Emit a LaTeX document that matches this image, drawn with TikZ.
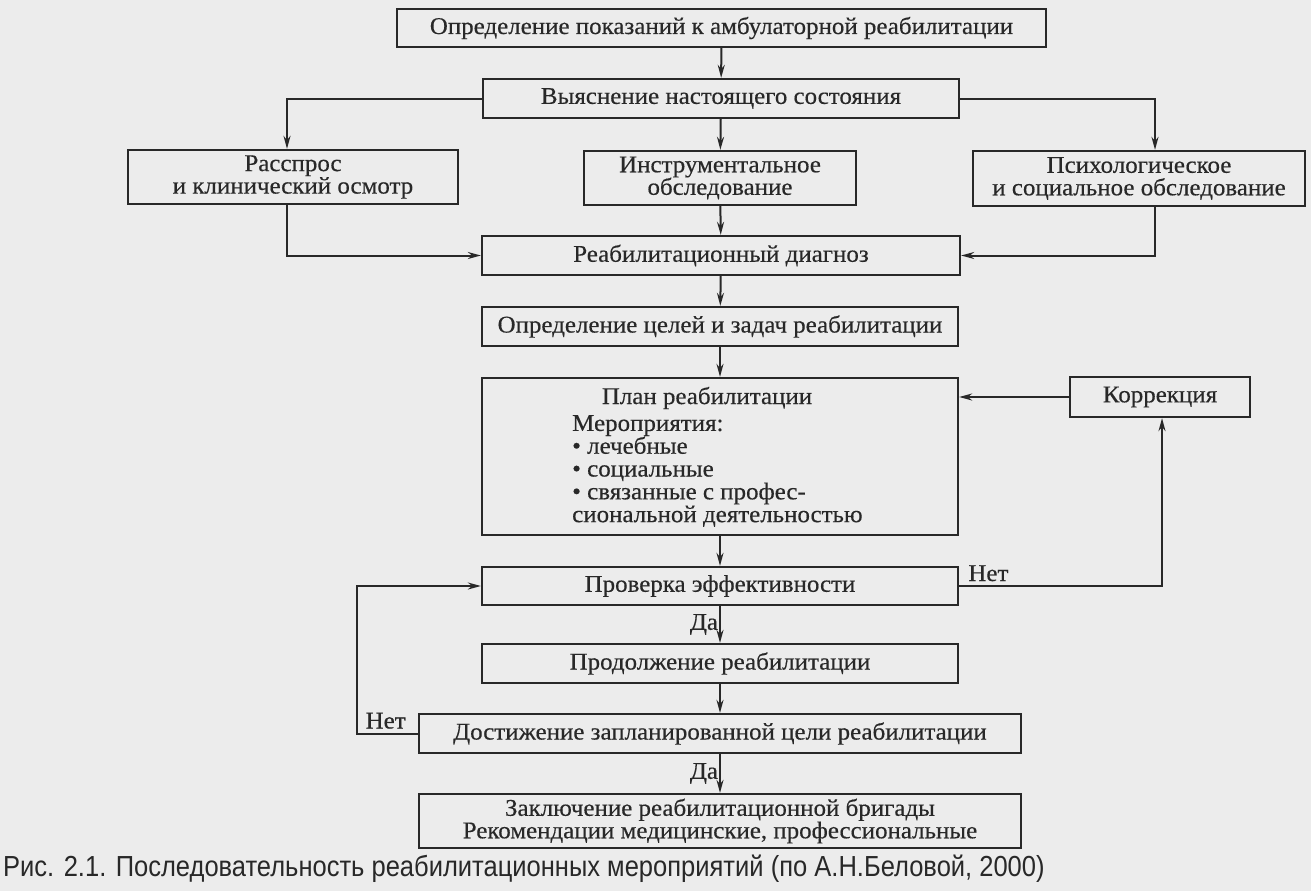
\documentclass[tikz,border=0pt]{standalone}
\usepackage{fontspec}
\setmainfont{Liberation Serif}[FakeStretch=1.04,FakeBold=0.4]
\newfontfamily\capfont{Liberation Sans}[FakeStretch=0.88]
\usetikzlibrary{arrows.meta}
\definecolor{bgc}{RGB}{236,236,236}
\definecolor{ink}{RGB}{40,40,40}
\begin{document}
\begin{tikzpicture}[x=1pt,y=-1pt,
  box/.style={draw=ink,line width=2.3pt,fill=bgc,inner sep=0pt,align=center,text=ink,
    font=\fontsize{24}{22.5}\selectfont},
  arr/.style={draw=ink,line width=2pt,-{Stealth[length=13pt,width=7pt]}},
  lbl/.style={text=ink,inner sep=0pt,font=\fontsize{24}{23}\selectfont}]
\fill[bgc] (0,0) rectangle (1311,891);
\useasboundingbox (0,0) rectangle (1311,891);

\node[box,minimum width=649pt,minimum height=38pt] (n1) at (721.5,28) {Определение показаний к амбулаторной реабилитации};
\node[box,minimum width=476pt,minimum height=39pt] (n2) at (721,98.5) {Выяснение настоящего состояния};
\node[box,minimum width=330pt,minimum height=54pt] (n3) at (293,177) {Расспрос\\и клинический осмотр};
\node[box,minimum width=272pt,minimum height=54pt] (n4) at (720,178) {Инструментальное\\обследование};
\node[box,minimum width=332pt,minimum height=55pt] (n5) at (1139,178.5) {Психологическое\\и социальное обследование};
\node[box,minimum width=478pt,minimum height=39pt] (n6) at (721,255.5) {Реабилитационный диагноз};
\node[box,minimum width=476pt,minimum height=39pt] (n7) at (720,326.5) {Определение целей и задач реабилитации};
\node[box,minimum width=476pt,minimum height=157pt] (n8) at (720,456.5) {};
\node[lbl] (pt) at (707,398) {План реабилитации};
\node[lbl,anchor=north west,align=left,font=\fontsize{24}{22.8}\selectfont] (pl) at (572,415) {Мероприятия:\\• лечебные\\• социальные\\• связанные с профес-\\сиональной деятельностью};
\node[box,minimum width=180pt,minimum height=40pt] (n9) at (1160,397) {Коррекция};
\node[box,minimum width=476pt,minimum height=38pt] (n10) at (720,586) {Проверка эффективности};
\node[box,minimum width=476pt,minimum height=39pt] (n11) at (720,663.5) {Продолжение реабилитации};
\node[box,minimum width=602pt,minimum height=39pt] (n12) at (720,733.5) {Достижение запланированной цели реабилитации};
\node[box,minimum width=602pt,minimum height=54pt] (n13) at (720,821) {Заключение реабилитационной бригады\\Рекомендации медицинские, профессиональные};

\coordinate (l3) at ([xshift=-6pt]n3.north);
\coordinate (l5) at ([xshift=16pt]n5.north);
\coordinate (b3) at ([xshift=-6pt]n3.south);
\coordinate (b5) at ([xshift=16pt]n5.south);
\coordinate (kx) at (1162,0);
\coordinate (lx) at (357,0);

\draw[arr] (n1) -- (n2);
\draw[arr] (n2.west) -| (l3);
\draw[arr] (n2) -- (n4);
\draw[arr] (n2.east) -| (l5);
\draw[arr] (b3) |- (n6.west);
\draw[arr] (n4) -- (n6);
\draw[arr] (b5) |- (n6.east);
\draw[arr] (n6) -- (n7);
\draw[arr] (n7) -- (n8);
\draw[arr] (n8) -- (n10);
\draw[arr] (n9.west) -- (n9.west -| n8.east);
\draw[arr] (n10.east) -| (kx |- n9.south);
\draw[arr] (n10) -- node[lbl,left=1pt,pos=0.5] {Да} (n11);
\draw[arr] (n11) -- (n12);
\draw[arr] (n12) -- node[lbl,left=1pt,pos=0.5] {Да} (n13);
\draw[arr] (n12.west) -- (lx |- n12.west) |- (n10.west);
\node[lbl,anchor=base west] (net1) at ([xshift=9pt,yshift=5pt]n10.east) {Нет};
\node[lbl,anchor=base east] (net2) at ([xshift=-12pt,yshift=5pt]n12.west) {Нет};

\node[anchor=west,inner sep=0pt,text=ink,font=\capfont\fontsize{29}{29}\selectfont] (cap) at (3,869) {Рис. 2.1. Последовательность реабилитационных мероприятий (по А.Н.Беловой, 2000)};
\end{tikzpicture}
\end{document}
